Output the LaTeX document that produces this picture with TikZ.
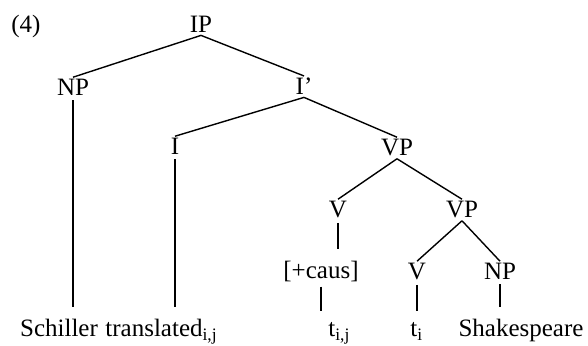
\documentclass[tikz,border=0pt]{standalone}
\usepackage{fontspec}
\setmainfont{Liberation Serif}
\begin{document}
\begin{tikzpicture}[x=0.5pt,y=-0.5pt]
	\tikzset{lbl/.style={anchor=base, inner sep=1pt, font=\fontsize{12.5}{15}\selectfont}};
	\useasboundingbox (0,0) rectangle (588,346);
	\node[lbl] (ex) at (26,33) {(4)};
	% the tree
	\node[lbl] (IP) at (201,33) {IP};
	\node[lbl] (NP) at (73,96) {NP};
	\node[lbl] (Ibar) at (304,95) {I'};
	\node[lbl] (I) at (175,155) {I};
	\node[lbl] (VP) at (397,156) {VP};
	\node[lbl] (V) at (338,218) {V};
	\node[lbl] (VPb) at (462,218) {VP};
	\node[lbl] (caus) at (321,279) {[+caus]};
	\node[lbl] (Vb) at (417,280) {V};
	\node[lbl] (NPb) at (500,280) {NP};
	% the words
	\node[lbl] (w1) at (59,337) {Schiller};
	\node[lbl, anchor=base west] (w2) at (103,337) {translated\textsubscript{i,j}};
	\node[lbl, anchor=base west] (w3) at (326,337) {t\textsubscript{i,j}};
	\node[lbl, anchor=base west] (w4) at (408,337) {t\textsubscript{i}};
	\node[lbl] (w5) at (521,337) {Shakespeare};

	\foreach \a/\b in {IP/NP, IP/Ibar, Ibar/I, Ibar/VP, VP/V, VP/VPb, VPb/Vb, VPb/NPb}{
		\draw[line width=0.7pt] (\a.south) -- (\b.north);
	}
	\foreach \a/\b in {NP/w1, I/w2, V/caus, caus/w3, Vb/w4, NPb/w5}{
		\draw[line width=0.7pt, shorten <=1pt, shorten >=5pt] (\a.south) -- (\a.south |- \b.north);
	}
\end{tikzpicture}
\end{document}
